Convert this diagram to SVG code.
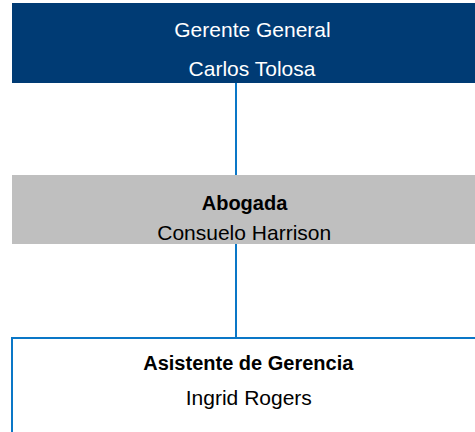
<svg xmlns="http://www.w3.org/2000/svg" width="475" height="432" viewBox="0 0 475 432">
  <style>
    .t { font-family: "Liberation Sans", Arial, sans-serif; font-size: 21px; text-anchor: middle; }
    .b { font-weight: bold; font-size: 20px; }
    .w { fill: #ffffff; }
    .k { fill: #000000; }
    .conn { stroke: #0a77c7; stroke-width: 2; fill: none; }
  </style>
  <rect width="475" height="432" fill="#ffffff"/>
  <g id="connectors">
    <line class="conn" x1="236" y1="83" x2="236" y2="175"/>
    <line class="conn" x1="236" y1="244" x2="236" y2="338"/>
  </g>
  <g id="gerente-general">
    <rect x="12" y="3" width="480" height="80" fill="#003b74"/>
    <text class="t w" x="252.5" y="37">Gerente General</text>
    <text class="t w" x="252" y="76">Carlos Tolosa</text>
  </g>
  <g id="abogada">
    <rect x="12" y="175" width="480" height="69" fill="#bfbfbf"/>
    <text class="t b k" x="244.5" y="209.5">Abogada</text>
    <text class="t k" x="244.2" y="239.5">Consuelo Harrison</text>
  </g>
  <g id="asistente-gerencia">
    <rect x="12" y="338" width="480" height="120" fill="#ffffff" stroke="#0a77c7" stroke-width="2"/>
    <text class="t b k" x="248.3" y="369.5">Asistente de Gerencia</text>
    <text class="t k" x="248.8" y="404.5">Ingrid Rogers</text>
  </g>
</svg>
